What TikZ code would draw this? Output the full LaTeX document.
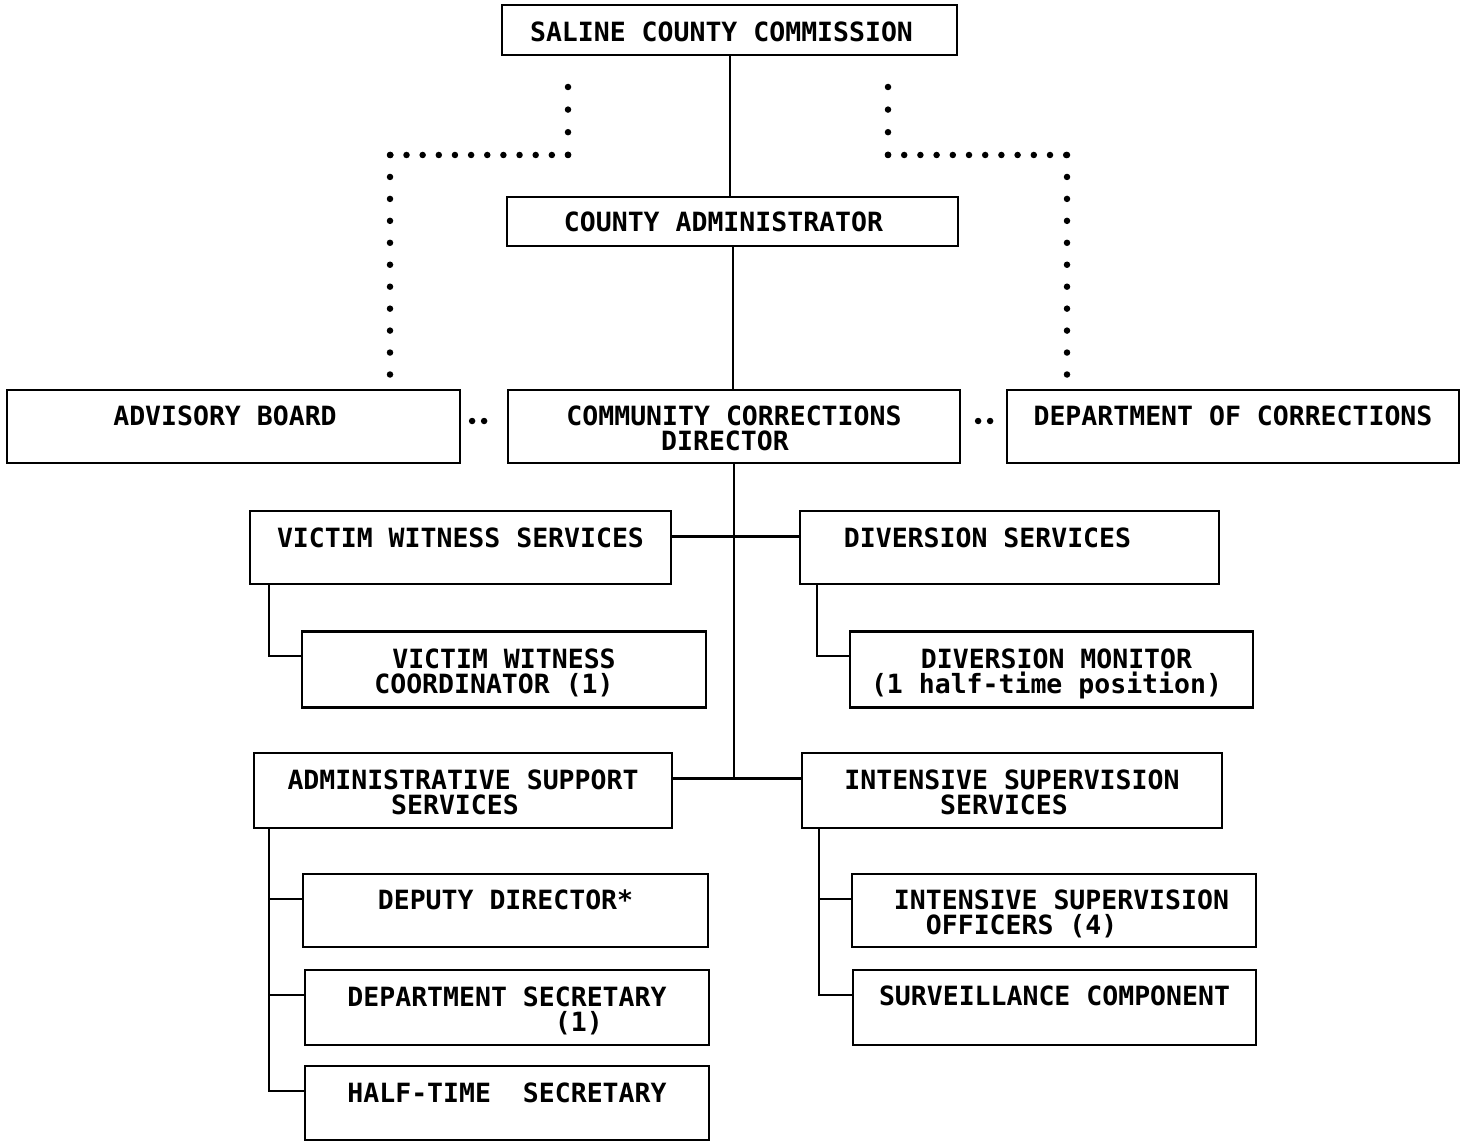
\documentclass[tikz,border=0pt]{standalone}
\usepackage{fontspec}
\newfontfamily\orgfont{DejaVu Sans Mono}
\newcommand\orgtext[4]{\parbox[c][#2pt][t]{#1pt}{\lineskip=0pt\lineskiplimit=-20pt\centering\rule{0pt}{#3pt}#4\par}}
\tikzset{
  orgbox/.style={draw, line width=2.2pt, inner sep=0pt, font=\orgfont\bfseries\fontsize{26.5}{25}\selectfont},
  conn/.style={line width=2pt},
  hconn/.style={line width=3pt},
  dotline/.style={line width=6.5pt, line cap=round, dash pattern=on 0pt off #1},
  dotpair/.style={line width=6.5pt, line cap=round, dash pattern=on 0pt off 12pt}
}
\begin{document}
\begin{tikzpicture}[x=1pt,y=-1pt]
\fill[white] (0,0) rectangle (1465,1142);
\useasboundingbox (0,0) rectangle (1465,1142);

% boxes
\node[orgbox] (scc) at (729.5,30) {\orgtext{455}{50}{36.5}{SALINE COUNTY COMMISSION\hspace*{16pt}}};
\node[orgbox] (ca) at (732.5,221.5) {\orgtext{451}{49}{34.5}{COUNTY ADMINISTRATOR\hspace*{18pt}}};
\node[orgbox] (adv) at (233.5,426.5) {\orgtext{453}{73}{35}{ADVISORY BOARD\hspace*{17pt}}};
\node[orgbox] (ccd) at (734,426.5) {\orgtext{452}{73}{35}{COMMUNITY CORRECTIONS\\DIRECTOR\hspace*{18pt}}};
\node[orgbox] (doc) at (1233,426.5) {\orgtext{452}{73}{35}{DEPARTMENT OF CORRECTIONS}};
\node[orgbox] (vws) at (460.5,547.5) {\orgtext{421}{73}{36.5}{VICTIM WITNESS SERVICES}};
\node[orgbox] (div) at (1009.5,547.5) {\orgtext{419}{73}{36.5}{DIVERSION SERVICES\hspace*{44pt}}};
\node[orgbox] (vwc) at (504,669.5) {\orgtext{404}{76}{36.5}{VICTIM WITNESS\\COORDINATOR (1)\hspace*{20pt}}};
\node[orgbox] (dm) at (1051.5,669.5) {\orgtext{403}{76}{36.5}{\hspace*{10pt}DIVERSION MONITOR\\(1 half-time position)\hspace*{10pt}}};
\node[orgbox] (ass) at (463,790.5) {\orgtext{418}{75}{36.5}{ADMINISTRATIVE SUPPORT\hspace*{16pt}\\SERVICES\hspace*{16pt}}};
\node[orgbox] (iss) at (1012,790.5) {\orgtext{420}{75}{36.5}{INTENSIVE SUPERVISION\\SERVICES\hspace*{16pt}}};
\node[orgbox] (dd) at (505.5,910.5) {\orgtext{405}{73}{35.5}{DEPUTY DIRECTOR*}};
\node[orgbox] (iso) at (1054,910.5) {\orgtext{404}{73}{35.5}{\hspace*{15pt}INTENSIVE SUPERVISION\\\hspace*{15pt}\hphantom{XX}OFFICERS (4)\hphantom{XXXXXXX}}};
\node[orgbox] (ds) at (507,1007.5) {\orgtext{404}{75}{36.5}{DEPARTMENT SECRETARY\\\hphantom{XXXXXXXXXXXXX}(1)\hphantom{XXXX}}};
\node[orgbox] (sc) at (1054.5,1007.5) {\orgtext{403}{75}{35.5}{SURVEILLANCE COMPONENT}};
\node[orgbox] (hts) at (507,1103) {\orgtext{404}{74}{36.5}{HALF-TIME\hphantom{XX}SECRETARY}};

% solid connectors
\draw[conn] (scc.south) -- (scc.south |- ca.north);
\draw[conn] (ca.south) -- (ca.south |- ccd.north);
\path ([yshift=11.5pt]vws.east) coordinate (vwsR) ([yshift=11.5pt]div.west) coordinate (divL);
\path ([yshift=12.5pt]ass.east) coordinate (assR) ([yshift=12.5pt]iss.west) coordinate (issL);
\draw[conn] (ccd.south) -- (ccd.south |- assR);
\draw[hconn] (vwsR) -- (divL);
\draw[hconn] (assR) -- (issL);

\path ([xshift=20pt]vws.south west) coordinate (vwsB);
\draw[conn] (vwsB) |- ([yshift=13.5pt]vwc.west);
\path ([xshift=18pt]div.south west) coordinate (divB);
\draw[conn] (divB) |- ([yshift=13.5pt]dm.west);
\path ([xshift=16pt]ass.south west) coordinate (assB);
\draw[conn] (assB) |- ([yshift=11.5pt]dd.west);
\draw[conn] (assB) |- ([yshift=12.5pt]ds.west);
\draw[conn] (assB) |- ([yshift=12pt]hts.west);
\path ([xshift=18pt]iss.south west) coordinate (issB);
\draw[conn] (issB) |- ([yshift=11.5pt]iso.west);
\draw[conn] (issB) |- ([yshift=12.5pt]sc.west);

% dotted connectors
\coordinate (la) at (568,87);
\coordinate (lb) at (568,155);
\coordinate (lc) at (390,155);
\coordinate (ld) at (390,375);
\coordinate (ra) at (888,87);
\coordinate (rb) at (888,155);
\coordinate (rc) at (1067,155);
\coordinate (rd) at (1067,375);
\draw[dotline=22.6pt] (la) -- (lb);
\draw[dotline=16.15pt] (lb) -- (lc);
\draw[dotline=21.95pt] (lc) -- (ld);
\draw[dotline=22.6pt] (ra) -- (rb);
\draw[dotline=16.2pt] (rb) -- (rc);
\draw[dotline=21.95pt] (rc) -- (rd);

\draw[dotpair, shorten <=11pt, shorten >=19pt] ([yshift=5.5pt]adv.east) -- ([yshift=5.5pt]ccd.west);
\draw[dotpair, shorten <=17pt, shorten >=12pt] ([yshift=5.5pt]ccd.east) -- ([yshift=5.5pt]doc.west);
\end{tikzpicture}
\end{document}
